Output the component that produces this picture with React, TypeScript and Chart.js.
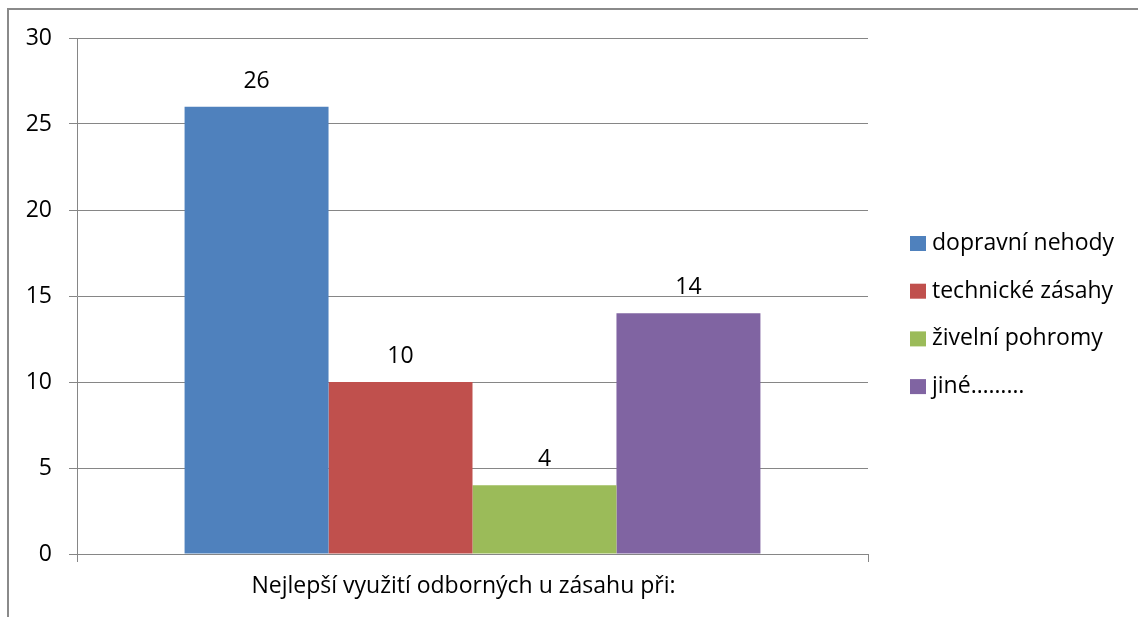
import React, { useEffect, useRef } from "react";
import { Chart, registerables } from "chart.js";

Chart.register(...registerables);

const categories = ["Nejlepší využití odborných u zásahu při:"];
const seriesNames = ["dopravní nehody", "technické zásahy", "živelní pohromy", "jiné………"];
const seriesValues = [26, 10, 4, 14];
const seriesColors = ["#4F81BD", "#C0504D", "#9BBB59", "#8064A2"];
const yTicks = [0, 5, 10, 15, 20, 25, 30];

const FONT = "'Open Sans', 'DejaVu Sans', sans-serif";
const FS = 23;
const GRID = "#868686";

const valueLabels = {
  id: "valueLabels",
  afterDatasetsDraw(chart: any) {
    const ctx = chart.ctx;
    ctx.save();
    ctx.font = `${FS}px ${FONT}`;
    ctx.fillStyle = "#000";
    ctx.textAlign = "center";
    ctx.textBaseline = "alphabetic";
    chart.data.datasets.forEach((ds: any, i: number) => {
      const meta = chart.getDatasetMeta(i);
      meta.data.forEach((bar: any, j: number) => {
        ctx.fillText(String(ds.data[j]), bar.x, bar.y - 19);
      });
    });
    ctx.restore();
  },
};

const sideLegend = {
  id: "sideLegend",
  afterDraw(chart: any) {
    const ctx = chart.ctx;
    ctx.save();
    ctx.font = `${FS}px ${FONT}`;
    ctx.textAlign = "left";
    ctx.textBaseline = "alphabetic";
    const x0 = chart.chartArea.right + 42;
    const y0 = 236;
    const step = 47.7;
    chart.data.datasets.forEach((ds: any, i: number) => {
      const y = y0 + i * step;
      ctx.fillStyle = ds.backgroundColor;
      ctx.fillRect(x0, y, 16, 15);
      ctx.fillStyle = "#000";
      ctx.fillText(ds.label, x0 + 22, y + 14);
    });
    ctx.restore();
  },
};

export default function App() {
  const ref = useRef<HTMLCanvasElement | null>(null);
  useEffect(() => {
    if (!ref.current) return;
    const chart = new Chart(ref.current, {
      type: "bar",
      data: {
        labels: categories,
        datasets: seriesNames.map((name, i) => ({
          label: name,
          data: [seriesValues[i]],
          backgroundColor: seriesColors[i],
          borderWidth: 0,
          categoryPercentage: 0.728,
          barPercentage: 1.0,
        })),
      },
      options: {
        animation: false,
        responsive: false,
        maintainAspectRatio: false,
        layout: { padding: { left: 0, top: 38, right: 270, bottom: 0 } },
        plugins: {
          legend: { display: false },
          tooltip: { enabled: false },
          title: { display: false },
        },
        scales: {
          x: {
            afterFit: (s: any) => { s.height = 63; },
            grid: {
              display: true,
              offset: true,
              drawOnChartArea: false,
              drawTicks: true,
              tickLength: 8,
              color: GRID,
              lineWidth: 1,
            },
            border: { display: true, color: GRID, width: 1 },
            ticks: {
              color: "#000",
              font: { family: FONT, size: FS },
              padding: 11,
              labelOffset: -9,
              maxRotation: 0,
            },
          },
          y: {
            min: 0,
            max: 30,
            afterFit: (s: any) => { s.width = 77; },
            afterBuildTicks: (s: any) => { s.ticks = yTicks.map((v) => ({ value: v })); },
            grid: {
              display: true,
              drawOnChartArea: true,
              drawTicks: true,
              tickLength: 8,
              color: GRID,
              lineWidth: 1,
            },
            border: { display: true, color: GRID, width: 1 },
            ticks: {
              color: "#000",
              font: { family: FONT, size: FS },
              padding: 17,
            },
          },
        },
      },
      plugins: [valueLabels, sideLegend],
    });
    return () => chart.destroy();
  }, []);

  return (
    <div style={{ position: "fixed", left: 0, top: 0, width: 1138, height: 617, background: "#fff" }}>
      <div
        style={{
          position: "absolute",
          left: 7,
          top: 8,
          width: 1131,
          height: 609,
          borderTop: "2px solid #8a8a8a",
          borderLeft: "2px solid #8a8a8a",
          boxSizing: "border-box",
        }}
      />
      <canvas ref={ref} width={1138} height={617} style={{ position: "absolute", left: 0, top: 0 }} />
    </div>
  );
}
